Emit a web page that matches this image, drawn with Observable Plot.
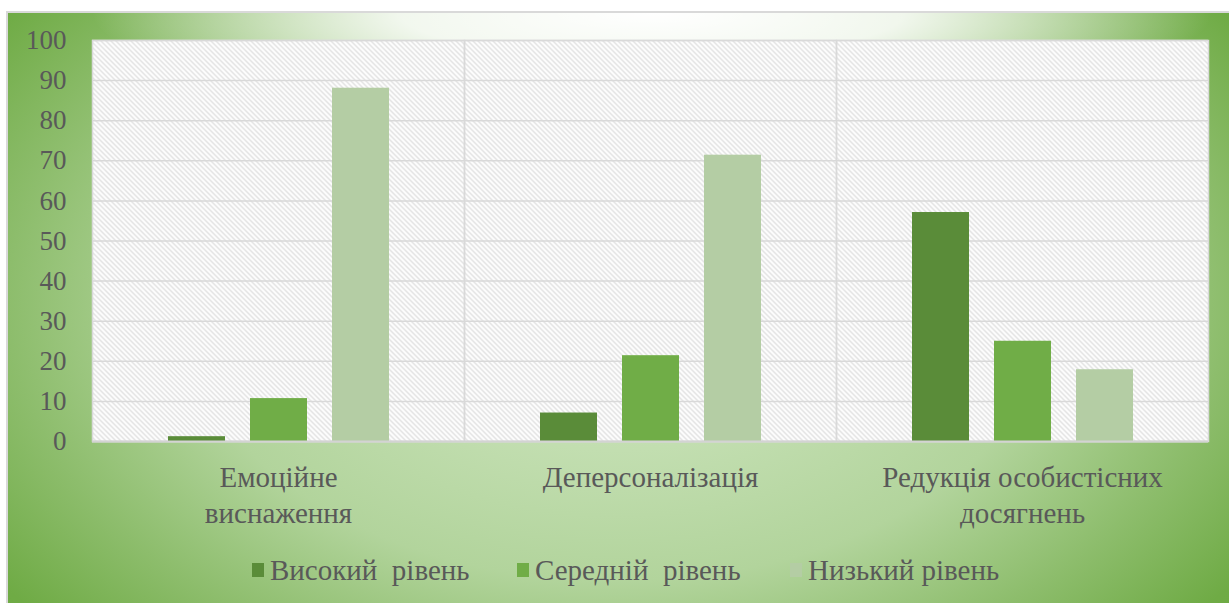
<!DOCTYPE html>
<html>
<head>
<meta charset="utf-8">
<script src="https://cdn.jsdelivr.net/npm/d3@7"></script>
<script src="https://cdn.jsdelivr.net/npm/@observablehq/plot@0.6"></script>
<style>
  html, body { margin: 0; padding: 0; background: #ffffff; width: 1229px; height: 603px; overflow: hidden; }
  #frame {
    position: absolute; left: 6px; top: 11px; width: 1240px; height: 620px;
    box-sizing: border-box; border: 2px solid #d9d9d9;
    background:
      radial-gradient(ellipse 560px 100px at 644px 0px, rgba(255,255,255,1) 0%, rgba(255,255,255,0.85) 45%, rgba(255,255,255,0) 100%),
      radial-gradient(ellipse 700px 450px at 609px 289px,
        #cfe6c0 0%, #c2deb0 33%, #b2d49c 62%, #8dbd6c 87%, #6fab45 108%, #6aa841 130%);
  }
  #chart { position: absolute; left: 0; top: 0; }
  .lg-sw { position: absolute; width: 12px; height: 14px; }
  .lg-tx { position: absolute; font-family: "Liberation Serif", "Times New Roman", Times, "DejaVu Serif", "Noto Serif", serif; font-size: 29px;
           line-height: 29px; color: #595959; white-space: pre; }
</style>
</head>
<body>
<div id="frame"></div>
<div id="chart"></div>
<script>
const categories = ["Емоційне виснаження", "Деперсоналізація", "Редукція особистісних досягнень"];
const categoryLabels = ["Емоційне\nвиснаження", "Деперсоналізація", "Редукція особистісних\nдосягнень"];
const series = ["Високий  рівень", "Середній  рівень", "Низький рівень"];
const highLevel = [1.2, 7.1, 57.1];
const middleLevel = [10.7, 21.4, 25.0];
const lowLevel = [88.1, 71.4, 17.9];
const yTicks = [0, 10, 20, 30, 40, 50, 60, 70, 80, 90, 100];
const colors = ["#5a8c39", "#70ad47", "#b4cda4"];

const seriesValues = [highLevel, middleLevel, lowLevel];
const data = [];
categories.forEach((c, i) => {
  series.forEach((s, j) => data.push({category: c, series: s, value: seriesValues[j][i]}));
});

const FONT = "'Liberation Serif', 'Times New Roman', Times, 'DejaVu Serif', 'Noto Serif', serif";

const svg = Plot.plot({
  width: 1229,
  height: 603,
  marginLeft: 92,
  marginRight: 21,
  marginTop: 40,
  marginBottom: 162,
  style: {background: "transparent", fontFamily: FONT, color: "#595959", overflow: "visible"},
  fx: {domain: categories, padding: 0, label: null, axis: null},
  x: {domain: series, paddingInner: 0.305, paddingOuter: 0.92, axis: null},
  y: {domain: [0, 100], axis: null},
  color: {domain: series, range: colors},
  marks: [
    Plot.frame({fill: "url(#hatch)"}),
    Plot.ruleY(yTicks, {stroke: "#d9d9d9", strokeWidth: 1.5}),
    Plot.frame({stroke: "#d9d9d9", strokeWidth: 1.5}),
    Plot.barY(data, {fx: "category", x: "series", y: "value", fill: "series"}),
    Plot.ruleY([0], {stroke: "#d3d3d3", strokeWidth: 2}),
    Plot.axisY({ticks: yTicks, tickSize: 0, tickPadding: 26, fontSize: 27, label: null, fill: "#595959", fontFamily: FONT}),
    Plot.axisFx({anchor: "bottom", tickSize: 0, tickPadding: 20, fontSize: 29, lineHeight: 1.24, label: null, fill: "#595959", fontFamily: FONT,
      tickFormat: d => categoryLabels[categories.indexOf(d)]})
  ]
});

const defs = d3.select(svg).insert("defs", ":first-child");
const pat = defs.append("pattern").attr("id", "hatch").attr("patternUnits", "userSpaceOnUse")
  .attr("width", 5).attr("height", 5);
pat.append("rect").attr("width", 5).attr("height", 5).attr("fill", "#ffffff");
pat.append("path").attr("d", "M-1,-1L6,6M-1,4L1,6M4,-1L6,1")
  .attr("stroke", "#d6d6d6").attr("stroke-width", 1.1).attr("fill", "none");

document.getElementById("chart").appendChild(svg);

// Legend built from the series arrays
const legendPos = [[252, 270], [517, 535], [790, 808]];
series.forEach((s, i) => {
  const sw = document.createElement("div");
  sw.className = "lg-sw";
  sw.style.left = legendPos[i][0] + "px";
  sw.style.top = "563px";
  sw.style.background = colors[i];
  document.body.appendChild(sw);
  const tx = document.createElement("div");
  tx.className = "lg-tx";
  tx.style.left = legendPos[i][1] + "px";
  tx.style.top = "556px";
  tx.textContent = s;
  document.body.appendChild(tx);
});
</script>
</body>
</html>
